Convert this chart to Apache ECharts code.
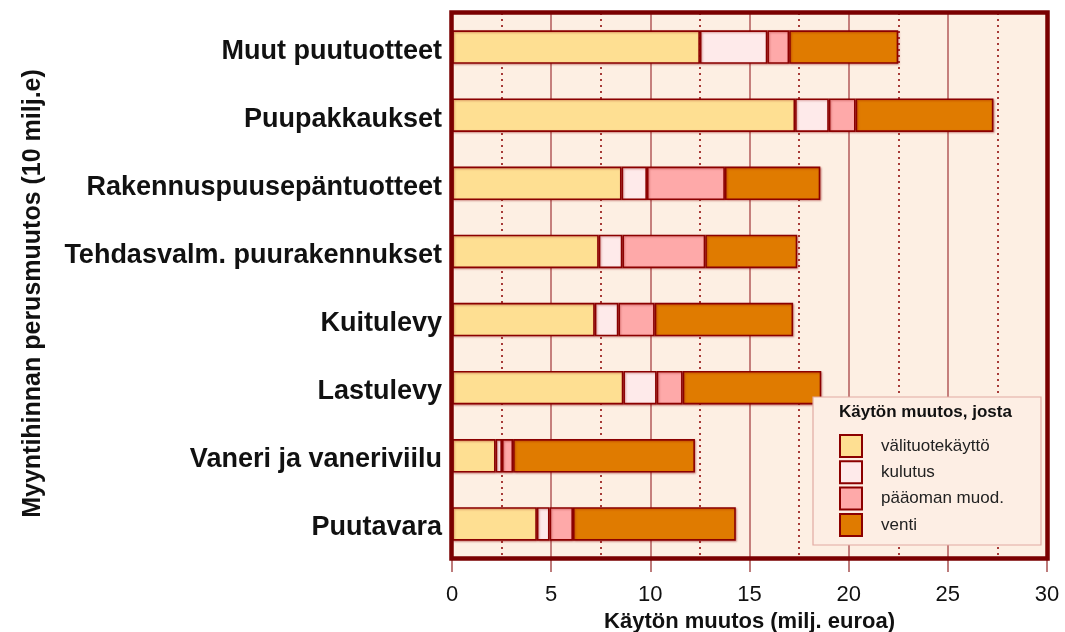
<!DOCTYPE html>
<html>
<head>
<meta charset="utf-8">
<script src="https://cdn.jsdelivr.net/npm/echarts@6/dist/echarts.min.js"></script>
<style>
  html, body { margin: 0; padding: 0; background: #fff; }
  #chart { width: 1065px; height: 632px; }
</style>
</head>
<body>
<div id="chart"></div>
<script>
// toimialat ylhäältä alas
const categories = [
  'Muut puutuotteet',
  'Puupakkaukset',
  'Rakennuspuusepäntuotteet',
  'Tehdasvalm. puurakennukset',
  'Kuitulevy',
  'Lastulevy',
  'Vaneri ja vaneriviilu',
  'Puutavara',
];

const seriesNames = ['välituotekäyttö', 'kulutus', 'pääoman muod.', 'venti'];

const valituote = [12.5, 17.3, 8.55, 7.4, 7.2, 8.64, 2.2, 4.28];
const kulutus   = [3.4, 1.7, 1.28, 1.19, 1.19, 1.68, 0.32, 0.64];
const paaoma    = [1.1, 1.35, 3.93, 4.18, 1.83, 1.31, 0.56, 1.18];
const venti     = [5.5, 6.95, 4.81, 4.64, 6.98, 6.99, 9.17, 8.21];

const COLORS = ['#fedf92', '#feeaea', '#fea9a9', '#e07b00'];
const FONT = '"Liberation Sans", Arial, sans-serif';

// piirtoalueen reunat (px)
const G = { left: 452, right: 18, top: 13, bottom: 74 };
const W = 1065, H = 632;

const chart = echarts.init(document.getElementById('chart'));

function bar(name, data, i) {
  return {
    name: name,
    type: 'bar',
    stack: 'kaytto',
    data: data,
    barWidth: '49%',
    itemStyle: {
      color: COLORS[i],
      borderColor: '#8b0000',
      borderWidth: 1.6,
      shadowColor: 'rgba(139,0,0,0.35)',
      shadowBlur: 2,
      shadowOffsetX: 1,
      shadowOffsetY: 1,
    },
  };
}

chart.setOption({
  animation: false,
  textStyle: { fontFamily: FONT },
  grid: {
    left: G.left, right: G.right, top: G.top, bottom: G.bottom,
    outerBoundsMode: 'none',
    show: true,
    backgroundColor: '#fdefe3',
    borderWidth: 0,
  },
  xAxis: {
    type: 'value',
    min: 0, max: 30, interval: 5,
    axisLine: { show: false },
    axisTick: { show: true, length: 14, lineStyle: { color: '#a85050', width: 1.5 } },
    minorTick: { show: false, splitNumber: 2 },
    axisLabel: { fontSize: 22, color: '#111', margin: 26, fontFamily: FONT },
    splitLine: { show: true, lineStyle: { color: '#b25a5a', width: 1.5 } },
    minorSplitLine: { show: true, lineStyle: { color: '#8b0000', width: 1.5, type: [2, 4] } },
    name: 'Käytön muutos (milj. euroa)',
    nameLocation: 'middle',
    nameGap: 53,
    nameTextStyle: { fontSize: 22, fontWeight: 'bold', color: '#111', fontFamily: FONT },
  },
  yAxis: {
    type: 'category',
    data: categories,
    inverse: true,
    axisLine: { show: false },
    axisTick: { show: false },
    axisLabel: {
      margin: 10,
      formatter: (v) => '{c|' + v + '}',
      rich: {
        c: { fontSize: 27, fontWeight: 'bold', color: '#111', fontFamily: FONT, padding: [8, 0, 0, 0] },
      },
    },
    splitLine: { show: false },
    name: 'Myyntihinnan perusmuutos (10 milj.e)',
    nameLocation: 'middle',
    nameRotate: 90,
    nameGap: 406,
    nameTextStyle: { fontSize: 25, fontWeight: 'bold', color: '#111', padding: [0, 16, 0, 0], fontFamily: FONT },
  },
  legend: {
    data: seriesNames,
    orient: 'vertical',
    left: 839,
    top: 434,
    padding: 0,
    icon: 'rect',
    itemWidth: 22,
    itemHeight: 22,
    itemGap: 2.3,
    z: 20,
    textStyle: { fontSize: 17, color: '#222', padding: [0, 0, 0, 14], fontFamily: FONT },
  },
  graphic: [
    {
      // paksu kehys piirtoalueen ympärille
      type: 'rect',
      z: 10,
      silent: true,
      shape: { x: G.left - 0.5, y: G.top - 0.5, width: W - G.left - G.right + 1, height: H - G.top - G.bottom + 1 },
      style: { fill: 'none', stroke: '#7a0000', lineWidth: 4.5 },
    },
    {
      type: 'rect',
      z: 15,
      shape: { x: 813, y: 397, width: 228, height: 148 },
      style: { fill: '#fdeee4', stroke: '#e2aaa2', lineWidth: 1.2 },
    },
    {
      type: 'text',
      z: 16,
      left: 839,
      top: 404,
      style: { text: 'Käytön muutos, josta', fill: '#111', font: 'bold 17px ' + FONT },
    },
  ],
  series: [
    bar(seriesNames[0], valituote, 0),
    bar(seriesNames[1], kulutus, 1),
    bar(seriesNames[2], paaoma, 2),
    bar(seriesNames[3], venti, 3),
  ],
});
</script>
</body>
</html>
